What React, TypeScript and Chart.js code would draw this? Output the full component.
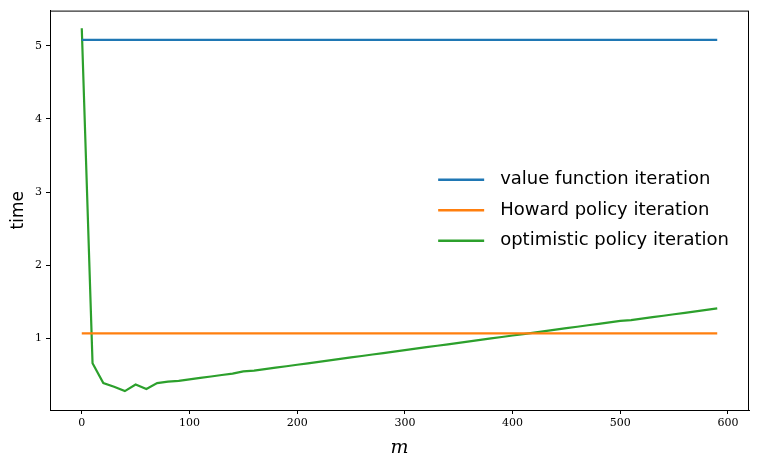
import React, { useEffect, useRef } from "react";
import { Chart, registerables } from "chart.js";

Chart.register(...registerables);

const mValues = [
  0, 10, 20, 30, 40, 50, 60, 70, 80, 90, 100, 110, 120, 130, 140, 150, 160, 170, 180, 190,
  200, 210, 220, 230, 240, 250, 260, 270, 280, 290, 300, 310, 320, 330, 340, 350, 360, 370, 380, 390,
  400, 410, 420, 430, 440, 450, 460, 470, 480, 490, 500, 510, 520, 530, 540, 550, 560, 570, 580, 590,
];
const vfiTime = 5.08;
const howardTime = 1.07;
const optimisticTimes = [
  5.24, 0.66, 0.39, 0.34, 0.28, 0.37, 0.31, 0.39, 0.41, 0.42, 0.44, 0.46, 0.48, 0.5, 0.52, 0.55, 0.56, 0.58, 0.6, 0.62,
  0.64, 0.66, 0.68, 0.7, 0.72, 0.74, 0.76, 0.78, 0.8, 0.82, 0.84, 0.86, 0.88, 0.9, 0.92, 0.94, 0.96, 0.98, 1.0, 1.02,
  1.04, 1.06, 1.08, 1.1, 1.12, 1.14, 1.16, 1.18, 1.2, 1.22, 1.24, 1.25, 1.27, 1.29, 1.31, 1.33, 1.35, 1.37, 1.39, 1.41,
];
const xTicks = [0, 100, 200, 300, 400, 500, 600];
const yTicks = [1, 2, 3, 4, 5];
const seriesLabels = ["value function iteration", "Howard policy iteration", "optimistic policy iteration"];
const seriesColors = ["#1f77b4", "#ff7f0e", "#2ca02c"];

const boxAndLegend = {
  id: "boxAndLegend",
  afterDraw(chart: any) {
    const { ctx, chartArea } = chart;
    ctx.save();
    ctx.strokeStyle = "#000";
    ctx.lineWidth = 1;
    ctx.strokeRect(chartArea.left + 0.5, chartArea.top + 0.5, chartArea.right - chartArea.left - 1, chartArea.bottom - chartArea.top);
    // legend (center right)
    ctx.font = "18px 'DejaVu Sans', sans-serif";
    const rowH = 30.5;
    const lineLen = 46;
    const gap = 16;
    let maxW = 0;
    seriesLabels.forEach((l) => (maxW = Math.max(maxW, ctx.measureText(l).width)));
    const right = chartArea.right - 20;
    const textX = right - maxW;
    const lineX = textX - gap - lineLen;
    const cy = (chartArea.top + chartArea.bottom) / 2;
    seriesLabels.forEach((l, i) => {
      const y = cy + (i - 1) * rowH;
      ctx.strokeStyle = seriesColors[i];
      ctx.lineWidth = 2.5;
      ctx.beginPath();
      ctx.moveTo(lineX, y);
      ctx.lineTo(lineX + lineLen, y);
      ctx.stroke();
      ctx.fillStyle = "#000";
      ctx.textBaseline = "middle";
      ctx.fillText(l, textX, y);
    });
    ctx.restore();
  },
};

export default function App() {
  const ref = useRef<HTMLCanvasElement | null>(null);
  useEffect(() => {
    if (!ref.current) return;
    const mk = (vals: number[]) => mValues.map((m, i) => ({ x: m, y: vals[i] }));
    const chart = new Chart(ref.current, {
      type: "line",
      data: {
        datasets: [
          { label: seriesLabels[0], data: mk(mValues.map(() => vfiTime)), borderColor: seriesColors[0], borderWidth: 2.2, pointRadius: 0 },
          { label: seriesLabels[1], data: mk(mValues.map(() => howardTime)), borderColor: seriesColors[1], borderWidth: 2.2, pointRadius: 0 },
          { label: seriesLabels[2], data: mk(optimisticTimes), borderColor: seriesColors[2], borderWidth: 2.2, pointRadius: 0 },
        ],
      },
      options: {
        animation: false,
        responsive: false,
        layout: { padding: { top: 10, right: 10, left: 0, bottom: 0 } },
        plugins: { legend: { display: false }, tooltip: { enabled: false } },
        scales: {
          x: {
            type: "linear",
            min: -29.5,
            max: 619.5,
            afterBuildTicks: (s: any) => { s.ticks = xTicks.map((v) => ({ value: v })); },
            afterFit: (s: any) => { s.height = 57; },
            ticks: { color: "#000", font: { family: "'DejaVu Serif', serif", size: 11 }, padding: 3, maxRotation: 0 },
            grid: { drawOnChartArea: false, drawTicks: true, tickLength: 4, color: "#000" },
            border: { display: true, color: "#000" },
            title: { display: true, text: "m", color: "#000", font: { family: "'DejaVu Serif', serif", size: 19, style: "italic" }, padding: { top: 1, bottom: 8 } },
          },
          y: {
            type: "linear",
            min: 0.022,
            max: 5.48,
            afterBuildTicks: (s: any) => { s.ticks = yTicks.map((v) => ({ value: v })); },
            afterFit: (s: any) => { s.width = 50; },
            ticks: { color: "#000", font: { family: "'DejaVu Serif', serif", size: 11 }, padding: 4 },
            grid: { drawOnChartArea: false, drawTicks: true, tickLength: 4, color: "#000" },
            border: { display: true, color: "#000" },
            title: { display: true, text: "time", color: "#000", font: { family: "'DejaVu Sans', sans-serif", size: 17 }, padding: { top: 8, bottom: 0 } },
          },
        },
      },
      plugins: [boxAndLegend],
    } as any);
    return () => chart.destroy();
  }, []);
  return (
    <div style={{ position: "fixed", left: 0, top: 0, width: 759, height: 467, background: "#fff" }}>
      <canvas ref={ref} width={759} height={467} style={{ width: 759, height: 467 }} />
    </div>
  );
}
